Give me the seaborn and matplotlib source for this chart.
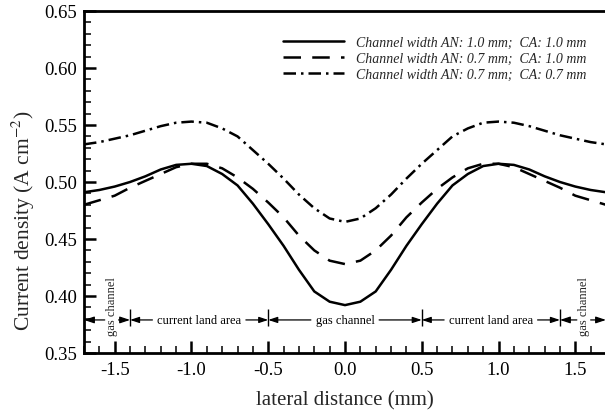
# current density profile along the lateral direction
import numpy as np
import pandas as pd
import matplotlib
matplotlib.use('Agg')
import matplotlib.pyplot as plt
from matplotlib.ticker import MultipleLocator, FormatStrFormatter
import seaborn as sns

# lateral positions (mm)
lateral = np.round(np.arange(-1.7, 1.71, 0.1), 1)

# AN 1.0 mm / CA 1.0 mm
cd_an10_ca10 = [0.491, 0.493, 0.496, 0.500, 0.505, 0.511, 0.515, 0.516, 0.514,
                0.507, 0.497, 0.481, 0.463, 0.444, 0.423, 0.404, 0.395, 0.392,
                0.395, 0.404, 0.423, 0.444, 0.463, 0.481, 0.497, 0.507, 0.514,
                0.516, 0.515, 0.511, 0.505, 0.500, 0.496, 0.493, 0.491]
# AN 0.7 mm / CA 1.0 mm
cd_an07_ca10 = [0.480, 0.484, 0.488, 0.495, 0.501, 0.507, 0.513, 0.516, 0.516,
                0.512, 0.504, 0.494, 0.482, 0.469, 0.453, 0.440, 0.431, 0.428,
                0.431, 0.440, 0.453, 0.469, 0.482, 0.494, 0.504, 0.512, 0.516,
                0.516, 0.513, 0.507, 0.501, 0.495, 0.488, 0.484, 0.480]
# AN 0.7 mm / CA 0.7 mm
cd_an07_ca07 = [0.533, 0.535, 0.538, 0.541, 0.545, 0.549, 0.552, 0.553, 0.552,
                0.547, 0.540, 0.528, 0.516, 0.503, 0.489, 0.477, 0.468, 0.465,
                0.468, 0.477, 0.489, 0.503, 0.516, 0.528, 0.540, 0.547, 0.552,
                0.553, 0.552, 0.549, 0.545, 0.541, 0.538, 0.535, 0.533]

labels = ['Channel width AN: 1.0 mm;  CA: 1.0 mm',
          'Channel width AN: 0.7 mm;  CA: 1.0 mm',
          'Channel width AN: 0.7 mm;  CA: 0.7 mm']

# region annotations along the bottom
region_names = ['gas channel', 'current land area', 'gas channel',
                'current land area', 'gas channel']
region_edges = [-1.7, -1.4, -0.5, 0.5, 1.4, 1.7]
region_centers = [-1.52, -0.95, 0.0, 0.95, 1.555]

sns.set_style('ticks')
plt.rcParams['font.family'] = 'serif'
plt.rcParams['font.serif'] = ['Liberation Serif', 'DejaVu Serif']
plt.rcParams['mathtext.fontset'] = 'stix'
plt.rcParams['axes.unicode_minus'] = False

fig = plt.figure(figsize=(6.05, 4.14), dpi=100)
ax = fig.add_axes([84 / 605, 1 - 354 / 414, 522 / 605, 342 / 414])

styles = ['-', (0, (7, 4.5)), (0, (5, 2, 1, 2))]
for vals, lab, ls in zip([cd_an10_ca10, cd_an07_ca10, cd_an07_ca07], labels, styles):
    df = pd.DataFrame({'x': lateral, 'cd': vals})
    sns.lineplot(data=df, x='x', y='cd', color='k', linestyle=ls, lw=1.8,
                 label=lab, ax=ax, legend=False)

ax.set_xlim(-1.7, 1.7)
ax.set_ylim(0.35, 0.65)
ax.xaxis.set_major_locator(MultipleLocator(0.5))
ax.xaxis.set_minor_locator(MultipleLocator(0.1))
ax.yaxis.set_major_locator(MultipleLocator(0.05))
ax.yaxis.set_minor_locator(MultipleLocator(0.01))
ax.xaxis.set_major_formatter(FormatStrFormatter('%.1f'))
ax.yaxis.set_major_formatter(FormatStrFormatter('%.2f'))
ax.tick_params(which='both', direction='in', top=False, right=False,
               labelsize=13.5, colors='k')
ax.tick_params(axis='x', pad=6)
ax.tick_params(axis='y', pad=5)
ax.tick_params(which='major', length=8.5, width=1.8)
ax.tick_params(which='minor', length=5, width=1.1)
for s in ['left', 'bottom', 'top']:
    ax.spines[s].set_linewidth(2)
    ax.spines[s].set_color('k')
ax.spines['right'].set_visible(False)

ax.set_xlabel('lateral distance (mm)', fontsize=15)
ax.set_ylabel('Current density (A cm$^{-2}$)', fontsize=15.5)
ax.xaxis.set_label_coords(0.5, -0.108)
ax.yaxis.set_label_coords(-0.09, 0.39)

# separators and arrows
arrow_y = 0.379
ax.vlines(region_edges[1:-1], 0.374, 0.389, colors='k', lw=1)
astyle = '-|>,head_length=0.6,head_width=0.2'
for name, c, lo, hi in zip(region_names, region_centers,
                           region_edges[:-1], region_edges[1:]):
    if name == 'gas channel' and c != 0.0:
        # vertical text in the edge channels
        ax.text(c, 0.392, name, rotation=90, ha='center', va='center', fontsize=9)
        for start, end in [(c - 0.045, lo), (c + 0.045, hi)]:
            ax.annotate('', xy=(end, arrow_y), xytext=(start, arrow_y),
                        annotation_clip=False,
                        arrowprops=dict(arrowstyle=astyle, color='k', lw=0.9,
                                        shrinkA=0, shrinkB=0))
    else:
        for end, col in [(lo, 'k'), (hi, 'none')]:
            ax.annotate(name, xy=(end, arrow_y), xytext=(c, arrow_y),
                        ha='center', va='center', fontsize=9, color=col,
                        annotation_clip=False,
                        arrowprops=dict(arrowstyle=astyle, color='k', lw=0.9,
                                        shrinkA=1, shrinkB=0))

ax.legend(handles=ax.get_lines()[:3], labels=labels, loc='upper left',
          bbox_to_anchor=(283 / 605, 1 - 37 / 414), bbox_transform=fig.transFigure,
          frameon=False, prop={'style': 'italic', 'size': 10},
          handlelength=4.4, handletextpad=0.85, labelspacing=0.2,
          borderpad=0, borderaxespad=0)

fig.savefig('out.png', dpi=100)
